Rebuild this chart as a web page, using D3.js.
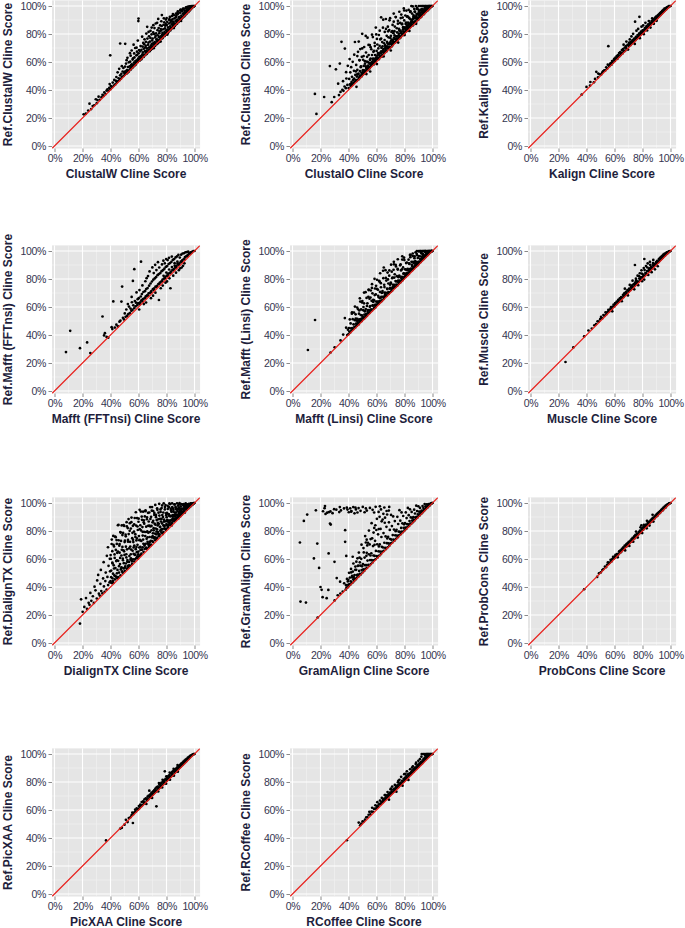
<!DOCTYPE html>
<html><head><meta charset="utf-8">
<script src="https://cdn.jsdelivr.net/npm/d3@7"></script>
<style>html,body{margin:0;padding:0;background:#fff;}</style>
</head><body>
<script>
const methods = ["ClustalW","ClustalO","Kalign","Mafft (FFTnsi)","Mafft (Linsi)","Muscle","DialignTX","GramAlign","ProbCons","PicXAA","RCoffee"];
const tickValues = [0,20,40,60,80,100];
const minorValues = [10,30,50,70,90];

const clustalW = [[20.8,22.6],[22.4,23.1],[24.1,25.3],[25.0,30.2],[26.2,26.4],[27.3,28.5],[28.4,29.1],[29.5,33.4],[30.2,30.6],[30.7,32.8],[31.5,35.2],[32.4,33.0],[33.6,34.9],[34.3,36.6],[35.1,35.8],[35.6,38.3],[36.5,37.1],[37.2,39.6],[37.8,40.4],[38.6,39.2],[39.1,41.5],[39.4,44.2],[40.0,40.6],[40.3,42.8],[39.8,64.8],[41.2,41.9],[41.6,45.3],[42.3,43.1],[42.7,47.2],[43.4,44.0],[43.9,46.5],[44.5,45.2],[44.2,49.3],[45.3,46.1],[45.8,48.4],[45.1,52.6],[46.4,47.0],[46.9,50.5],[46.2,55.1],[47.5,48.1],[47.8,51.6],[46.9,73.2],[48.3,49.4],[48.7,53.2],[48.1,57.0],[49.4,50.0],[49.8,52.3],[49.2,55.7],[50.5,73.0],
[50.2,50.9],[50.6,53.4],[50.9,51.6],[50.4,56.7],[51.3,52.5],[51.7,54.2],[51.1,58.9],[51.8,51.9],[51.5,61.3],[52.2,53.8],[52.8,52.9],[52.5,56.4],[52.1,63.0],[53.4,54.1],[53.7,56.9],[53.1,59.8],[53.9,66.3],[53.2,53.5],[54.3,55.6],[54.8,57.7],[54.1,60.2],[54.6,54.7],[54.4,64.5],[55.5,55.9],[55.2,58.4],[55.8,61.7],[55.1,68.2],[55.6,57.0],[56.3,57.8],[56.7,59.5],[56.1,62.6],[56.9,66.1],[56.5,72.4],[56.2,56.4],[57.4,58.1],[57.8,60.7],[57.1,63.3],[57.6,70.0],[57.3,57.5],[58.2,59.6],[58.7,61.2],[58.5,64.8],[58.9,67.4],[58.1,58.3],[58.6,70.2],[59.3,59.9],[59.7,62.4],[59.1,65.1],[59.5,75.3],[59.9,60.8],
[60.2,61.3],[60.6,63.7],[60.1,66.2],[60.0,91.0],[59.9,89.2],[60.8,60.9],[60.4,68.5],[61.3,62.6],[61.7,64.2],[61.2,67.6],[61.5,71.4],[61.9,61.8],[62.4,63.1],[62.8,65.5],[62.1,68.7],[62.6,78.1],[62.3,62.5],[62.9,71.0],[63.5,64.8],[63.2,66.9],[63.8,69.5],[63.4,73.6],[63.7,63.6],[64.2,65.3],[64.6,67.8],[64.9,70.4],[64.3,76.2],[64.7,64.9],[64.1,72.7],[65.4,66.7],[65.8,68.1],[65.2,71.6],[65.6,80.3],[65.9,65.7],[65.3,74.4],[66.5,67.2],[66.1,69.8],[66.8,72.3],[66.2,85.1],[66.6,66.8],[66.4,76.7],[67.3,68.9],[67.7,70.5],[67.1,73.8],[67.5,78.4],[67.9,67.6],[67.2,81.5],[68.4,69.1],[68.8,71.7],[68.2,74.6],[68.6,82.3],[68.9,68.7],[68.5,77.2],[69.1,70.6],[69.5,72.9],[69.8,75.4],[69.3,79.7],[69.7,69.5],[69.4,84.6],
[70.3,71.2],[70.7,73.5],[70.1,76.8],[70.5,81.1],[70.9,69.9],[70.4,70.6],[70.6,86.3],[71.2,72.7],[71.6,74.3],[71.9,77.5],[71.4,84.2],[71.8,71.5],[71.1,80.0],[72.4,73.3],[72.8,75.9],[72.2,78.6],[72.6,80.4],[72.9,72.6],[72.3,87.5],[73.5,74.8],[73.1,76.2],[73.7,79.1],[73.3,88.0],[73.9,73.4],[73.6,82.7],[74.2,75.5],[74.6,77.7],[74.9,80.6],[74.4,84.3],[74.7,74.5],[74.1,90.8],[75.3,76.1],[75.7,78.4],[75.1,81.9],[75.5,86.2],[75.8,74.6],[75.4,75.7],[75.9,83.5],[76.4,77.6],[76.8,79.2],[76.2,82.5],[76.6,85.7],[76.9,76.8],[76.3,89.1],[77.5,78.3],[77.1,80.8],[77.7,83.4],[76.7,93.5],[77.3,77.4],[77.9,86.6],[78.2,79.7],[78.6,81.3],[78.9,84.1],[78.4,88.4],[78.7,78.5],[78.1,91.2],[79.3,80.4],[79.7,82.6],[79.1,85.9],[79.5,90.3],[79.8,79.7],[79.4,87.2],
[80.4,81.5],[80.8,83.2],[80.2,86.4],[80.6,79.6],[80.1,91.4],[80.9,80.8],[80.5,88.7],[81.5,82.3],[81.1,84.7],[81.7,87.5],[81.3,81.2],[81.9,90.1],[82.2,83.6],[82.6,85.4],[82.9,88.3],[82.4,92.2],[82.7,82.5],[82.1,90.6],[83.3,84.2],[83.7,86.9],[83.1,89.4],[83.5,83.6],[83.9,92.8],[84.4,85.7],[84.8,87.3],[84.2,90.5],[84.6,94.3],[84.9,84.7],[84.3,88.9],[85.5,86.1],[85.1,88.6],[85.7,91.2],[85.3,84.2],[85.9,85.8],[85.4,93.4],[86.2,87.4],[86.6,89.5],[86.9,92.1],[86.4,86.5],[86.8,94.6],[87.3,88.7],[87.7,90.2],[87.1,93.3],[87.5,87.4],[87.9,95.1],[88.4,89.2],[88.8,91.6],[88.2,94.4],[88.6,88.5],[88.1,96.2],[89.5,90.6],[89.1,92.3],[89.7,95.2],[89.3,89.4],[89.9,97.0],
[90.2,91.4],[90.6,93.1],[90.9,96.3],[90.4,89.3],[90.7,90.8],[90.1,97.5],[91.3,92.2],[91.7,94.6],[91.1,97.2],[91.5,91.6],[91.9,98.1],[92.4,93.7],[92.8,95.3],[92.2,98.0],[92.6,92.5],[92.9,96.6],[93.5,94.2],[93.1,96.8],[93.7,98.4],[93.3,93.4],[93.9,99.0],[94.2,95.6],[94.6,97.1],[94.9,99.2],[94.4,94.5],[94.8,98.3],[95.3,96.4],[95.7,98.0],[95.1,99.4],[95.5,95.6],[95.9,97.3],[96.4,97.2],[96.8,99.1],[96.2,99.8],[96.6,96.7],[96.9,98.5],[97.5,98.3],[97.1,99.7],[97.7,100],[97.3,97.6],[97.9,99.0],[98.2,99.1],[98.6,100],[98.9,99.6],[98.4,98.7],[99.3,99.5],[99.7,100],[99.1,100],[99.5,99.8],[100,100]];

const clustalO = [[16.0,37.2],[17.1,22.9],[22.6,35.0],[26.7,57.1],[28.0,31.3],[29.8,35.0],[31.0,54.8],[32.6,44.5],[33.8,58.9],[33.2,36.4],[34.3,38.6],[35.0,74.4],[35.6,40.1],[36.4,39.4],[36.1,46.3],[37.4,69.6],[37.2,42.5],[38.1,41.3],[38.5,48.2],[38.3,52.7],[39.2,43.6],[39.5,57.3],
[40.1,41.4],[40.5,47.9],[40.8,62.1],[41.0,44.0],[41.3,52.6],[41.6,42.9],[41.9,56.3],[42.2,45.8],[42.5,49.4],[42.7,43.5],[43.0,60.1],[43.3,47.2],[43.6,44.9],[43.9,53.7],[44.1,65.2],[44.4,46.0],[44.6,74.3],[44.9,50.8],[45.2,47.1],[45.5,57.9],[45.7,42.3],[46.0,49.6],[46.3,54.4],[46.5,47.2],[46.8,67.3],[47.1,51.8],[47.3,74.6],[47.6,49.0],[47.9,61.2],[48.1,53.5],[48.4,69.2],[48.7,50.1],[48.9,56.9],[49.2,52.3],[49.5,63.7],[49.7,50.6],[49.8,80.1],[48.2,48.8],[46.2,51.2],[44.0,48.1],[42.0,44.6],
[50.1,53.5],[50.4,61.6],[50.6,51.4],[50.9,57.2],[51.2,70.7],[51.5,53.7],[51.7,60.6],[52.0,53.1],[52.3,56.9],[52.5,66.8],[52.8,51.4],[53.1,60.2],[53.3,56.2],[53.6,77.4],[53.9,54.3],[54.2,59.7],[54.4,65.0],[54.7,56.4],[55.0,58.8],[55.2,72.1],[55.5,53.2],[55.8,62.5],[56.0,56.9],[56.3,69.1],[56.6,59.7],[56.8,65.0],[57.1,58.7],[57.4,77.8],[57.6,62.5],[57.9,58.2],[58.2,67.9],[58.5,61.0],[58.7,73.6],[59.0,65.0],[59.3,60.5],[59.5,84.6],[59.8,63.4],
[60.1,67.9],[60.3,58.5],[60.6,72.5],[60.9,62.9],[61.1,66.3],[61.4,62.1],[61.7,79.3],[61.9,66.0],[62.2,71.5],[62.5,64.0],[62.7,76.1],[63.0,66.3],[63.3,91.9],[63.5,70.1],[63.8,64.0],[64.1,74.2],[64.3,67.0],[64.6,84.5],[64.9,69.3],[65.1,64.0],[65.4,73.4],[65.7,67.6],[65.9,81.5],[66.2,72.0],[66.5,69.5],[66.7,90.7],[67.0,67.6],[67.3,78.7],[67.5,74.4],[67.8,70.1],[68.1,85.2],[68.3,73.0],[68.6,77.6],[68.9,69.9],[69.1,82.8],[69.4,72.9],[69.7,91.3],[69.9,77.2],
[70.2,68.2],[70.5,73.1],[70.7,81.5],[71.0,76.0],[71.3,71.8],[71.5,86.5],[71.8,75.7],[72.1,80.6],[72.3,94.6],[72.6,74.0],[72.9,79.0],[73.1,85.3],[73.4,76.2],[73.7,92.1],[73.9,78.2],[74.2,75.0],[74.5,84.1],[74.7,81.1],[75.0,76.7],[75.3,89.4],[75.5,73.9],[75.8,79.0],[76.1,83.6],[76.3,95.9],[76.6,78.7],[76.9,87.9],[77.1,82.4],[77.4,77.8],[77.7,93.9],[77.9,81.6],[78.2,86.9],[78.5,79.8],[78.7,91.7],[79.0,84.9],[79.3,81.7],[79.5,98.3],[79.8,89.7],
[80.1,79.2],[80.3,84.8],[80.6,93.2],[80.9,82.7],[81.1,88.1],[81.4,96.7],[81.7,85.1],[81.9,82.5],[82.2,92.6],[82.5,88.1],[82.7,84.7],[83.0,97.2],[83.3,91.4],[83.5,82.2],[83.8,86.8],[84.1,95.8],[84.3,90.5],[84.6,85.7],[84.9,100],[85.1,89.1],[85.4,94.6],[85.7,88.4],[85.9,99.7],[86.2,86.5],[86.5,93.3],[86.7,91.3],[87.0,97.9],[87.3,88.8],[87.5,95.8],[87.8,91.1],[88.1,100],[88.3,87.3],[88.6,94.3],[88.9,91.1],[89.1,98.6],[89.4,90.3],[89.7,94.5],[89.9,97.5],
[90.2,100],[90.5,93.0],[90.7,96.7],[91.0,92.2],[91.3,100],[91.5,95.3],[91.8,97.2],[92.1,92.6],[92.3,100],[92.6,95.5],[92.9,97.8],[93.1,100],[93.4,95.0],[93.7,97.3],[93.9,100],[94.2,95.0],[94.5,98.5],[94.7,100],[95.0,97.3],[95.3,100],[95.5,96.5],[95.8,98.9],[96.1,100],[96.3,96.7],[96.6,99.2],[96.9,100],[97.1,98.6],[97.4,100],[97.7,98.4],[97.9,100],[98.2,100],[98.5,99.4],[98.8,100],[99.0,99.5],[99.3,100],[99.6,100],[100,100],
[50.3,52.0],[51.0,54.1],[51.9,52.8],[52.6,55.7],[53.4,54.9],[54.1,57.3],[54.9,55.6],[55.6,59.2],[56.4,57.8],[57.2,60.5],[57.8,59.1],[58.6,62.3],[59.2,60.0],[59.9,61.7],[60.7,64.8],[61.3,62.4],[62.0,65.2],[62.8,63.5],[63.4,67.6],[64.2,65.1],[64.8,68.3],[65.6,66.4],[66.3,70.8],[66.9,68.1],[67.6,71.2],[68.4,69.5],[69.0,72.6],[69.8,70.4],[70.4,75.1],[71.1,72.9],[71.9,73.0],[72.5,77.3],[73.3,74.1],[73.9,76.6],[74.6,78.4],[75.4,76.2],[76.0,80.3],[76.8,77.5],[77.5,80.9],[78.3,79.4],[78.9,83.1],[79.6,80.5],[80.4,83.9],[81.2,82.0],[81.8,86.2],[82.4,83.6],[83.2,87.5],[83.9,84.7],[84.5,88.3],[85.3,86.3],[85.8,90.4],[86.6,87.9],[87.2,91.8],[87.9,89.0],[88.5,92.7],[89.2,90.6],[89.8,93.9],[90.6,91.4],[91.2,94.7],[91.9,93.1],[92.5,96.3],[93.2,94.2],[93.8,96.9],[94.6,95.8],[95.2,98.2],[95.9,97.0],[96.5,98.8],[97.2,98.1],[97.8,99.3],[98.4,99.0],[99.1,99.8],
[45.3,53.3],[45.8,46.4],[46.3,64.2],[46.8,51.1],[47.3,47.6],[47.8,61.4],[48.3,50.2],[48.8,56.3],[49.3,49.7],[49.8,69.7],[50.3,54.2],[50.8,64.2],[51.3,51.6],[51.8,58.8],[52.3,78.6],[52.8,54.2],[53.3,63.7],[53.8,57.2],[54.3,72.2],[54.8,55.4],[55.3,61.5],[55.8,70.6],[56.3,58.3],[56.8,79.5],[57.3,62.1],[57.8,67.3],[58.3,58.6],[58.8,71.4],[59.3,62.1],[59.8,79.7],[60.3,76.5],[60.8,63.0],[61.3,69.7],[61.8,62.1],[62.3,82.4],[62.8,66.7],[63.3,76.7],[63.8,64.1],[64.3,71.1],[64.8,90.2],[65.3,66.7],[65.8,75.7],[66.3,69.5],[66.8,83.6],[67.3,67.8],[67.8,73.5],[68.3,81.9],[68.8,70.6],[69.3,89.8],[69.8,74.1],[70.3,78.7],[70.8,71.1],[71.3,82.1],[71.8,74.2],[72.3,88.8],[72.8,82.0],[73.3,74.0],[73.8,92.1],[74.3,78.4],[74.8,75.1],[75.3,87.4],[75.8,77.4],[76.3,82.4],[76.8,77.1],[77.3,91.4],[77.8,80.5],[78.3,87.4],[78.8,79.1],[79.3,83.9],[79.8,96.8],[80.3,81.2],[80.8,87.2],[81.3,83.3],[81.8,92.4],[82.3,82.6],[82.8,86.3],[83.3,91.5],[83.8,84.9],[84.3,96.1],[84.8,87.2],[85.3,90.0],[85.8,86.1],[86.3,92.1],[86.8,88.1],[87.3,96.0],[87.8,92.5],[88.3,88.6],[88.8,97.9],[89.3,91.3],[89.8,90.1],[90.3,95.9],[90.8,91.5],[91.3,93.9],[91.8,92.1],[92.3,97.8],[92.8,93.8],[93.3,96.5],[93.8,94.1],[94.3,95.7],[94.8,99.7],[95.3,95.7],[95.8,97.4],[96.3,96.8],[96.8,98.8],[97.3,97.6],[97.8,98.5],[98.3,99.3],[98.8,99.2],[99.3,99.8]];

const kalign = [[36.6,36.7],[40.0,42.2],[42.5,43.1],[42.8,45.7],[45.3,45.5],[46.1,47.9],[47.0,53.0],[48.4,51.7],[48.2,49.0],[49.3,51.2],[50.5,51.1],[51.2,52.4],[51.8,53.3],[52.7,54.1],[53.4,54.0],[54.1,56.2],[54.8,55.3],[55.2,58.1],[55.6,71.3],[56.3,57.0],[56.9,58.6],[57.4,59.3],[57.8,58.1],[58.3,60.7],[58.9,59.4],[59.4,61.2],[59.8,62.3],[60.3,60.8],[60.7,63.1],[61.2,62.4],[61.6,64.2],[62.1,62.3],[62.5,65.0],[62.9,63.6],[63.3,66.4],[63.7,64.2],[64.1,67.1],[64.5,65.0],[64.9,66.3],[65.3,68.5],[65.7,66.1],[66.1,69.2],[66.5,72.4],[66.9,67.5],[67.3,70.3],[67.7,68.2],[68.1,71.4],[68.5,74.6],[68.9,69.3],[69.3,72.2],[69.7,68.9],[70.1,71.5],[70.5,73.8],[70.9,76.1],[71.3,72.0],[71.7,74.4],[72.1,78.3],[72.5,73.2],[72.9,75.6],[73.3,80.1],[73.7,74.3],[74.1,76.7],[74.7,88.8],[74.5,72.9],[74.9,75.6],[75.3,77.9],[75.7,82.4],[76.1,76.8],[76.5,79.2],[76.9,83.6],[77.3,78.0],[77.8,92.3],[77.7,80.4],[78.1,77.0],[78.5,79.3],[78.9,81.7],[79.3,85.2],[79.7,80.5],[80.1,82.6],[80.5,86.1],[80.9,79.9],[81.3,82.1],[81.7,84.3],[82.1,88.0],[82.5,83.2],[82.9,85.6],[83.3,82.5],[83.7,84.4],[84.1,86.9],[84.5,89.3],[84.9,85.5],[85.3,87.8],[85.7,84.6],[86.1,86.9],[86.5,89.2],[86.9,91.1],[87.3,88.0],[87.7,90.4],[88.1,87.3],[88.5,89.3],[88.9,91.6],[89.3,90.1],[89.7,92.5],[90.1,89.4],[90.5,91.3],[90.9,93.4],[91.3,92.2],[91.7,94.1],[92.1,92.8],[92.5,95.0],[92.9,93.6],[93.3,95.7],[93.7,94.4],[94.1,96.6],[94.5,95.3],[94.9,97.2],[95.3,96.1],[95.7,98.1],[96.1,96.9],[96.5,98.4],[96.9,97.6],[97.3,99.0],[97.7,98.5],[98.1,99.4],[98.5,99.1],[98.9,100],[99.3,99.8],[99.7,100],[100,100],[60.1,61.5],[62.3,63.9],[64.3,66.0],[66.3,68.0],[68.3,70.1],[70.3,72.6],[72.3,74.2],[74.3,76.1],[76.3,78.0],[78.3,80.2],[80.3,81.4],[82.3,84.1],[84.3,85.9],[86.3,88.1],[88.3,90.2],[90.3,92.0],[92.3,94.1],[94.3,95.9],[96.3,97.8],[71.1,73.0],[73.1,75.1],[75.1,77.0],[77.1,79.1],[79.1,80.9],[81.1,83.0],[83.1,85.0],[85.1,86.8],[87.1,89.0],[89.1,91.0],[91.1,93.0],[93.1,94.8]];

const mafftFFTnsi = [[8.2,27.8],[11.2,43.0],[18.2,30.6],[23.3,34.7],[25.6,27.1],[34.3,53.2],[35.4,39.7],[36.0,41.3],[37.2,38.6],[38.4,38.1],[40.8,45.6],[41.3,44.2],[42.0,64.0],[43.1,45.3],[44.2,47.4],[45.3,46.1],[46.4,49.5],[47.8,63.9],[48.3,74.6],[47.1,50.2],[48.9,52.3],[49.6,51.1],[50.2,55.4],[50.8,53.0],[51.3,58.2],[51.9,53.6],[52.4,62.1],[52.7,54.9],[53.2,60.3],[53.8,55.7],[54.3,58.9],[54.9,57.3],[55.3,63.4],[55.1,67.2],[55.7,57.9],[56.0,78.6],[56.3,61.2],[57.0,87.0],[56.9,59.1],[57.4,64.3],[57.9,60.4],[58.2,63.1],[58.6,70.4],[59.1,61.3],[59.4,65.6],[59.8,62.7],[60.2,66.3],[60.5,58.2],[60.7,72.1],[61.2,63.4],[61.6,67.5],[61.8,92.4],[62.1,64.8],[62.4,69.2],[62.8,75.4],[63.1,65.6],[63.5,70.7],[63.8,62.1],[64.2,66.2],[64.6,71.3],[64.9,78.4],[65.2,67.6],[65.5,72.8],[65.8,80.6],[65.4,63.2],[66.1,68.3],[66.5,73.5],[66.8,82.1],[67.2,69.7],[67.6,75.2],[67.9,85.4],[68.2,70.1],[68.6,76.8],[68.9,66.3],[69.2,71.4],[69.6,78.2],[69.9,88.3],[70.3,72.7],[70.6,79.5],[70.9,84.2],[70.4,68.1],[71.2,73.3],[71.6,80.4],[71.9,90.1],[72.2,74.6],[72.5,81.3],[72.8,86.4],[72.1,70.2],[73.3,75.1],[73.6,82.7],[73.9,92.0],[74.2,76.4],[74.6,65.0],[74.5,83.5],[74.8,88.2],[75.3,77.5],[75.6,84.2],[75.9,73.4],[76.2,78.2],[76.5,85.6],[76.8,90.4],[77.2,79.6],[77.5,86.3],[77.8,93.1],[77.3,75.3],[78.2,80.3],[78.5,87.4],[78.8,91.2],[79.2,81.5],[79.5,88.6],[79.8,94.2],[79.3,77.4],[80.2,82.4],[80.5,89.2],[80.8,93.5],[80.4,78.3],[81.2,83.6],[81.5,90.7],[81.8,95.1],[82.2,84.2],[82.5,91.4],[82.8,73.4],[82.1,80.5],[83.2,85.3],[83.5,92.2],[83.8,96.0],[84.2,86.4],[84.5,93.6],[84.8,82.4],[85.2,87.1],[85.5,94.2],[85.8,91.3],[86.2,88.6],[86.5,95.4],[86.8,84.5],[87.2,89.3],[87.5,96.1],[87.8,92.4],[88.2,90.5],[88.5,97.2],[88.8,86.3],[89.2,91.2],[89.5,95.3],[89.8,87.6],[90.2,92.4],[90.5,97.4],[90.8,88.2],[91.2,93.3],[91.5,98.2],[91.8,89.4],[92.2,94.1],[92.5,98.4],[92.8,91.2],[93.2,95.6],[93.5,99.1],[94.2,96.3],[94.5,99.2],[95.2,97.1],[95.5,99.5],[96.2,98.3],[97.2,99.0],[98.2,99.4],[99.2,100],[100,100],[60.9,62.0],[62.9,64.0],[64.9,66.4],[66.9,68.1],[68.9,70.6],[70.9,72.3],[72.9,74.2],[74.9,76.6],[76.9,78.4],[78.9,80.5],[80.9,82.1],[82.9,84.3],[84.9,86.2],[86.9,88.0],[88.9,90.1],[90.9,92.2],[92.9,94.0],[94.9,96.2],[96.9,98.1],[97.9,98.9],[85.9,89.6],[87.9,91.0],[83.9,88.5],[81.9,86.8],[79.9,84.6],[77.9,82.3]];

const mafftLinsi = [[11.0,29.3],[16.1,50.7],[27.2,27.5],[30.1,31.2],[34.3,36.1],[36.2,40.3],[37.4,52.1],[38.3,45.2],[39.1,40.0],[39.6,43.8],[44.6,60.3],[42.5,56.2],[48.1,66.2],[51.1,70.3],[54.4,72.1],[56.8,76.3],[58.6,80.1],[62.6,84.1],[65.2,88.2],[70.4,90.2],[72.4,92.3],[75.2,94.1],[78.4,96.2],[83.9,97.2],[85.9,98.2],
[40.0,40.6],[40.3,45.0],[40.6,42.5],[40.9,51.1],[41.2,41.7],[41.5,48.3],[41.8,44.8],[42.1,43.2],[42.4,55.2],[42.7,45.0],[43.0,51.3],[43.3,44.1],[43.6,47.6],[43.9,56.0],[44.2,45.8],[44.5,50.6],[44.8,45.4],[45.1,54.8],[45.4,48.2],[45.7,50.3],[46.0,46.6],[46.3,51.6],[46.6,48.7],[46.9,58.4],[47.2,47.7],[47.5,55.2],[47.8,51.2],[48.1,49.2],[48.4,63.9],[48.7,51.4],[49.0,58.3],[49.3,50.1],[49.6,54.0],[49.9,64.3],
[50.2,52.0],[50.5,57.7],[50.8,51.5],[51.1,62.6],[51.4,54.6],[51.7,57.1],[52.0,52.7],[52.3,58.5],[52.6,55.0],[52.9,66.5],[53.2,53.7],[53.5,62.6],[53.8,57.7],[54.1,55.4],[54.4,72.5],[54.7,57.8],[55.0,65.9],[55.3,56.2],[55.6,60.7],[55.9,71.8],[56.2,58.1],[56.5,64.4],[56.8,57.5],[57.1,69.8],[57.4,60.9],[57.7,63.6],[58.0,58.7],[58.3,64.8],[58.6,61.1],[58.9,73.2],[59.2,59.7],[59.5,69.0],[59.8,63.9],
[60.1,61.4],[60.4,79.4],[60.7,63.9],[61.0,72.4],[61.3,62.2],[61.6,66.9],[61.9,78.6],[62.2,64.2],[62.5,70.8],[62.8,63.5],[63.1,77.0],[63.4,67.2],[63.7,70.1],[64.0,64.7],[64.3,71.4],[64.6,67.3],[64.9,80.6],[65.2,65.7],[65.5,75.9],[65.8,70.3],[66.1,67.5],[66.4,86.3],[66.7,70.1],[67.0,78.9],[67.3,68.2],[67.6,73.2],[67.9,84.6],[68.2,70.2],[68.5,76.8],[68.8,69.5],[69.1,82.4],[69.4,73.1],[69.7,75.9],
[70.0,70.7],[70.3,76.8],[70.6,73.1],[70.9,85.2],[71.2,71.7],[71.5,81.0],[71.8,75.9],[72.1,73.4],[72.4,90.5],[72.7,75.8],[73.0,83.4],[73.3,74.2],[73.6,78.5],[73.9,89.0],[74.2,76.0],[74.5,82.0],[74.8,75.5],[75.1,87.2],[75.4,78.8],[75.7,81.3],[76.0,76.7],[76.3,82.2],[76.6,78.9],[76.9,89.8],[77.2,77.7],[77.5,86.1],[77.8,81.5],[78.1,79.3],[78.4,93.9],[78.7,81.4],[79.0,88.3],[79.3,80.1],[79.6,84.0],[79.9,93.5],
[80.2,81.8],[80.5,86.9],[80.8,81.5],[81.1,91.4],[81.4,84.3],[81.7,86.5],[82.0,82.7],[82.3,87.3],[82.6,84.6],[82.9,93.8],[83.2,83.7],[83.5,90.8],[83.8,87.0],[84.1,85.2],[84.4,97.2],[84.7,87.0],[85.0,92.3],[85.3,86.1],[85.6,89.1],[85.9,96.4],[86.2,87.6],[86.5,91.4],[86.8,87.5],[87.1,94.9],[87.4,89.7],[87.7,91.4],[88.0,88.7],[88.3,92.1],[88.6,90.2],[88.9,97.0],[89.2,89.7],[89.5,95.0],[89.8,92.3],
[90.1,91.0],[90.4,99.7],[90.7,92.5],[91.0,96.2],[91.3,92.0],[91.6,94.2],[91.9,98.6],[92.2,93.3],[92.5,95.8],[92.8,93.5],[93.1,97.9],[93.4,95.0],[93.7,96.2],[94.0,94.7],[94.3,96.9],[94.6,95.6],[94.9,99.1],[95.2,95.7],[95.5,98.0],[95.8,97.1],[96.1,96.8],[96.4,99.6],[96.7,97.8],[97.0,99.2],[97.3,98.1],[97.6,98.9],[97.9,100],[98.2,99.0],[98.5,99.8],[98.8,99.5],[99.1,100],[99.4,99.9],[99.7,100],[100,100],
[87.9,99.1],[88.8,100],[89.9,100],[90.8,100],[91.9,100],[92.8,100],[93.9,100],[94.5,100],[95.6,100],[96.5,100],[96.8,100],[97.6,100],[98.2,100],[98.6,100],[99.1,100],[99.5,100],[91.4,100],[93.3,100],[95.1,100],[97.2,100],
[45.9,47.3],[49.5,51.8],[52.5,53.4],[55.5,57.6],[58.5,59.3],[61.5,63.7],[63.3,64.1],[66.0,68.3],[68.7,69.4],[71.4,73.6],[73.5,74.3],[76.2,78.5],[78.3,79.0],[80.7,83.1],[82.2,83.0],[84.6,86.9],[86.1,87.0],[88.5,90.7],[90.3,91.2],[92.4,94.2],[94.2,95.0],[96.3,97.9],
[45.2,51.7],[45.7,46.7],[46.2,59.6],[46.7,50.1],[47.2,47.7],[47.7,57.5],[48.2,50.0],[48.7,54.3],[49.2,49.9],[49.7,63.2],[50.2,53.2],[50.7,60.0],[51.2,51.7],[51.7,56.9],[52.2,70.6],[52.7,54.2],[53.2,60.8],[53.7,56.5],[54.2,67.3],[54.7,55.6],[55.2,60.1],[55.7,66.8],[56.2,58.1],[56.7,73.6],[57.2,61.2],[57.7,65.1],[58.2,58.9],[58.7,68.5],[59.2,61.8],[59.7,75.1],[60.2,72.9],[60.7,62.9],[61.2,68.0],[61.7,62.4],[62.2,78.1],[62.7,66.2],[63.2,74.1],[63.7,64.2],[64.2,70.2],[64.7,85.9],[65.2,66.8],[65.7,74.2],[66.2,69.3],[66.7,80.8],[67.2,68.1],[67.7,72.8],[68.2,79.7],[68.7,70.6],[69.2,86.1],[69.7,73.6],[70.2,77.5],[70.7,71.4],[71.2,80.6],[71.7,74.2],[72.2,86.6],[72.7,81.0],[73.2,74.3],[73.7,90.1],[74.2,78.3],[74.7,75.2],[75.2,86.7],[75.7,77.7],[76.2,82.2],[76.7,77.4],[77.2,90.5],[77.7,80.7],[78.2,86.9],[78.7,79.2],[79.2,83.8],[79.7,95.2],[80.2,81.5],[80.7,86.9],[81.2,83.5],[81.7,91.8],[82.2,83.0],[82.7,86.4],[83.2,91.1],[83.7,85.2],[84.2,95.6],[84.7,87.4],[85.2,90.1],[85.7,86.4],[86.2,92.3],[86.7,88.4],[87.2,96.1],[87.7,92.7],[88.2,88.9],[88.7,98.1],[89.2,91.7],[89.7,90.2],[90.2,96.4],[90.7,91.9],[91.2,94.3],[91.7,92.4],[92.2,98.3],[92.7,94.2],[93.2,97.0],[93.7,94.2],[94.2,96.2],[94.7,100],[95.2,95.9],[95.7,97.8],[96.2,96.9],[96.7,99.3],[97.2,97.8],[97.7,98.7],[98.2,99.6],[98.7,99.3],[99.2,99.9],[99.7,100]];

const muscle = [[25.0,20.7],[30.6,31.1],[38.3,39.0],[41.4,43.2],[43.8,44.6],[45.6,46.9],[46.8,47.7],[47.9,49.8],[48.9,49.6],[49.8,51.3],[50.4,52.9],[51.3,51.9],[52.1,54.2],[52.9,53.6],[53.6,56.1],[54.2,54.8],[54.9,56.3],[55.6,57.9],[56.2,56.8],[56.9,58.4],[57.5,59.9],[58.1,58.6],[58.4,56.9],[58.8,60.3],[59.4,61.8],[59.9,60.4],[60.5,62.8],[61.1,61.7],[61.6,63.9],[62.2,62.9],[62.7,65.1],[63.3,63.8],[63.8,66.2],[64.3,65.0],[64.8,67.1],[65.2,64.1],[65.6,66.4],[66.1,68.7],[66.6,67.2],[67.1,69.9],[67.4,73.1],[67.8,68.5],[68.3,70.9],[68.8,69.3],[69.2,72.1],[69.6,68.3],[70.1,71.0],[70.5,73.2],[70.9,75.8],[71.4,72.1],[71.8,74.3],[72.2,73.0],[72.6,75.4],[72.9,78.8],[73.3,74.0],[73.7,76.3],[74.1,72.6],[74.5,75.2],[74.6,90.0],[74.9,77.6],[75.3,80.2],[75.7,76.4],[76.1,78.2],[76.5,82.4],[76.9,75.6],[77.3,78.1],[77.7,80.3],[78.1,84.1],[78.5,79.2],[78.9,81.4],[79.3,86.2],[79.7,78.4],[80.1,80.9],[80.5,83.1],[80.9,87.8],[81.3,94.3],[81.2,79.6],[81.7,82.5],[82.1,84.3],[82.5,89.2],[82.9,83.6],[83.3,85.7],[83.7,91.1],[84.1,82.9],[84.5,85.4],[84.9,87.6],[85.3,92.3],[85.7,86.3],[86.1,88.5],[86.5,84.9],[86.9,87.6],[87.3,89.7],[87.7,93.6],[88.1,88.9],[88.5,90.8],[88.9,86.9],[89.3,90.2],[89.7,92.1],[90.1,90.9],[90.5,93.0],[90.9,89.1],[91.3,92.0],[91.7,94.2],[92.1,92.8],[92.5,95.1],[92.9,93.7],[93.3,95.8],[93.7,94.4],[94.1,96.6],[94.5,95.1],[94.9,97.4],[95.3,96.2],[95.7,98.0],[96.1,96.8],[96.5,98.4],[96.9,97.7],[97.3,99.1],[97.7,98.3],[98.1,99.2],[98.5,99.0],[98.9,99.8],[99.3,99.6],[99.7,100],[100,100],[62.5,63.8],[64.5,66.0],[66.5,68.1],[68.5,70.2],[70.5,71.9],[72.5,74.1],[74.5,76.3],[76.5,77.8],[78.5,80.4],[80.5,81.7],[82.5,84.0],[84.5,86.3],[86.5,87.7],[88.5,89.9],[90.5,91.6],[92.5,93.9],[94.5,96.0],[79.5,83.9],[83.5,88.2],[85.5,90.1],[77.5,82.0],[81.5,86.4],[75.5,79.1],[87.5,91.4]];

const dialignTX = [[18.2,13.9],[19.0,31.2],[20.1,22.3],[21.3,25.8],[22.5,32.1],[23.2,24.4],[24.4,28.7],[25.0,27.3],[25.6,35.8],[26.3,30.1],[27.4,33.4],[28.1,28.6],[28.6,40.2],[29.3,37.6],[30.2,31.8],[30.5,44.7],[31.2,48.6],[31.7,35.2],[32.3,33.9],[32.8,42.3],[33.4,37.1],[33.1,52.2],[34.2,35.4],[34.7,46.1],[35.3,40.4],[35.1,57.7],[35.8,36.5],[36.3,44.2],[36.6,50.3],[37.2,38.1],[37.4,62.3],[37.8,47.2],[38.3,41.4],[38.6,55.1],[38.2,68.4],[39.3,43.3],[39.7,51.2],[39.5,60.1],
[40.0,44.3],[40.3,60.1],[40.5,51.7],[40.8,70.7],[41.0,42.8],[41.3,65.6],[41.5,56.8],[41.8,49.5],[42.0,76.5],[42.3,55.5],[42.5,69.0],[42.8,48.3],[43.0,60.8],[43.3,76.0],[43.5,53.5],[43.8,66.5],[44.0,47.4],[44.3,73.5],[44.5,59.1],[44.8,64.4],[45.0,52.2],[45.3,84.1],[45.5,58.7],[45.8,73.4],[46.0,46.8],[46.3,69.5],[46.5,64.5],[46.8,56.4],[47.0,79.2],[47.3,52.5],[47.5,72.9],[47.8,62.5],[48.0,84.0],[48.3,51.1],[48.5,68.6],[48.8,60.2],[49.0,78.6],[49.3,66.2],[49.5,57.0],[49.8,83.6],
[50.0,62.9],[50.3,73.1],[50.5,54.7],[50.8,77.4],[51.0,68.8],[51.3,61.1],[51.5,86.3],[51.8,66.9],[52.0,58.0],[52.3,82.1],[52.5,73.6],[52.8,53.9],[53.0,77.8],[53.3,67.6],[53.5,62.1],[53.8,85.6],[54.0,72.3],[54.3,59.5],[54.5,81.7],[54.8,66.7],[55.0,89.6],[55.3,58.2],[55.5,74.9],[55.8,65.9],[56.0,83.7],[56.3,72.1],[56.5,63.7],[56.8,79.5],[57.0,69.6],[57.3,89.3],[57.5,59.7],[57.8,75.8],[58.0,67.0],[58.3,83.9],[58.5,73.3],[58.8,64.9],[59.0,89.2],[59.3,70.1],[59.5,80.7],[59.8,63.4],
[60.0,86.6],[60.3,76.4],[60.5,68.2],[60.8,95.1],[61.0,73.6],[61.3,84.1],[61.5,62.9],[61.8,80.4],[62.0,72.9],[62.3,90.3],[62.5,66.7],[62.8,82.8],[63.0,76.7],[63.3,93.8],[63.5,70.9],[63.8,87.6],[64.0,79.4],[64.3,69.6],[64.5,90.4],[64.8,76.4],[65.0,94.8],[65.3,67.9],[65.5,83.1],[65.8,74.4],[66.0,88.4],[66.3,79.7],[66.5,72.3],[66.8,93.0],[67.0,78.8],[67.3,86.8],[67.5,68.5],[67.8,83.8],[68.0,75.7],[68.3,97.1],[68.5,83.2],[68.8,73.0],[69.0,90.1],[69.3,80.5],[69.5,94.5],[69.8,72.7],
[70.0,86.2],[70.3,78.4],[70.5,94.3],[70.8,82.0],[71.0,75.5],[71.3,91.5],[71.5,85.2],[71.8,78.2],[72.0,98.6],[72.3,81.8],[72.5,89.9],[72.8,74.5],[73.0,87.8],[73.3,81.1],[73.5,95.1],[73.8,85.8],[74.0,79.3],[74.3,93.1],[74.5,85.1],[74.8,99.4],[75.0,77.6],[75.3,88.7],[75.5,82.9],[75.8,93.6],[76.0,86.8],[76.3,81.1],[76.5,96.4],[76.8,85.4],[77.0,91.4],[77.3,77.8],[77.5,90.0],[77.8,84.0],[78.0,99.8],[78.3,88.1],[78.5,81.9],[78.8,95.4],[79.0,86.9],[79.3,98.5],[79.5,81.2],[79.8,91.3],
[80.0,85.0],[80.3,92.9],[80.5,87.9],[80.8,98.0],[81.0,83.0],[81.3,92.1],[81.5,87.5],[81.8,97.0],[82.0,90.8],[82.3,85.7],[82.5,99.1],[82.8,90.6],[83.0,95.8],[83.3,84.3],[83.5,93.7],[83.8,88.2],[84.0,99.8],[84.3,91.3],[84.5,96.1],[84.8,87.2],[85.0,95.1],[85.3,91.3],[85.5,88.5],[85.8,99.0],[86.0,93.1],[86.3,87.7],[86.5,97.2],[86.8,91.6],[87.0,95.4],[87.3,89.6],[87.5,99.8],[87.8,94.3],[88.0,91.6],[88.3,98.1],[88.5,89.0],[88.8,96.6],[89.0,93.4],[89.3,100],[89.5,95.2],[89.8,91.8],
[90.0,96.0],[90.3,93.6],[90.5,99.2],[90.8,91.6],[91.0,95.9],[91.3,93.4],[91.5,98.9],[91.8,95.9],[92.0,93.6],[92.3,99.2],[92.5,96.1],[92.8,98.3],[93.0,93.4],[93.3,97.9],[93.5,96.2],[93.8,98.9],[94.0,96.0],[94.3,97.9],[94.5,95.1],[94.8,97.8],[95.0,96.4],[95.3,98.8],[95.5,97.5],[95.8,96.6],[96.0,99.4],[96.3,97.7],[96.5,98.8],[96.8,97.2],[97.0,98.5],[97.5,99.5],[98.0,98.6],[98.5,99.5],[99.0,99.5],[99.5,100],[100,100],
[40.6,43.1],[41.4,46.2],[42.1,42.9],[43.1,45.4],[44.6,49.8],[45.4,47.0],[46.1,50.3],[47.2,48.4],[47.9,54.1],[48.7,50.2],[49.4,53.3],[50.2,51.5],[50.9,56.8],[51.7,53.0],[52.4,55.1],[53.2,57.9],[53.9,55.0],[54.6,60.4],[55.4,56.3],[56.1,59.8],[56.9,58.2],[57.6,63.1],[58.4,60.6],[59.1,61.9],[59.9,65.3],[60.6,62.0],[61.4,66.5],[62.1,63.8],[62.9,68.4],[63.6,65.1],[64.4,67.2],[65.1,70.9],[65.9,67.4],[66.6,71.0],[67.4,69.9],[68.1,72.2],[68.9,70.3],[69.6,75.4],[70.4,72.1],[71.1,74.8],[71.9,73.4],[72.6,77.6],[73.4,75.2],[74.1,78.1],[74.9,76.3],[75.6,80.2],[76.4,78.9],[77.1,81.3],[77.9,79.2],[78.6,83.7],[79.4,81.0],[80.1,84.2],[80.9,82.4],[81.6,86.0],[82.4,84.1],[83.1,87.4],[83.9,85.6],[84.6,88.9],[85.4,86.9],[86.1,90.2],[86.9,88.5],[87.6,91.4],[88.4,90.1],[89.1,92.7],[89.9,91.1],[90.6,94.2],[91.4,92.8],[92.1,95.6],[92.9,94.1],[93.6,96.8],[94.4,95.5],[95.1,97.9],[95.9,96.8],[96.6,99.1],[97.4,98.2],[98.1,99.3],[98.9,99.8],
[40.1,62.8],[40.5,47.0],[40.9,73.9],[41.3,57.4],[41.7,44.3],[42.1,70.1],[42.5,53.2],[42.9,63.3],[43.3,47.8],[43.7,75.6],[44.1,58.5],[44.5,70.8],[44.9,46.1],[45.3,65.3],[45.7,84.4],[46.1,54.9],[46.5,70.7],[46.9,60.8],[47.3,78.9],[47.7,53.2],[48.1,66.6],[48.5,77.1],[48.9,59.1],[49.3,84.2],[49.7,65.5],[50.1,72.1],[50.5,53.9],[50.9,76.2],[51.3,63.4],[51.7,83.3],[52.1,59.2],[52.5,72.4],[52.9,88.5],[53.3,55.5],[53.7,80.1],[54.1,68.9],[54.5,63.4],[54.9,86.3],[55.3,59.3],[55.7,78.7],[56.1,73.7],[56.5,68.3],[56.9,84.8],[57.3,63.0],[57.7,77.7],[58.1,93.4],[58.5,68.5],[58.9,74.7],[59.3,83.2],[59.7,60.4],[60.1,88.8],[60.5,73.4],[60.9,81.4],[61.3,68.6],[61.7,93.9],[62.1,66.6],[62.5,88.0],[62.9,79.4],[63.3,73.9],[63.7,86.2],[64.1,85.2],[64.5,70.5],[64.9,94.1],[65.3,79.3],[65.7,67.9],[66.1,89.7],[66.5,75.5],[66.9,83.7],[67.3,70.9],[67.7,93.2],[68.1,79.3],[68.5,88.6],[68.9,69.8],[69.3,83.6],[69.7,97.1],[70.1,76.3],[70.5,87.3],[70.9,80.5],[71.3,92.9],[71.7,75.4],[72.1,84.5],[72.5,91.5],[72.9,79.6],[73.3,96.2],[73.7,84.0],[74.1,88.4],[74.5,76.7],[74.9,91.0],[75.3,82.9],[75.7,95.4],[76.1,80.5],[76.5,88.6],[76.9,98.3],[77.3,78.6],[77.7,93.2],[78.1,86.7],[78.5,83.6],[78.9,97.1],[79.3,81.6],[79.7,92.6],[80.1,89.9],[80.5,86.9],[80.9,95.8],[81.3,84.3],[81.7,91.9],[82.1,99.8],[82.5,87.4],[82.9,90.6],[83.3,94.7],[83.7,84.0],[84.1,97.1],[84.5,90.2],[84.9,93.8],[85.3,88.4],[85.7,99.0],[86.1,87.9],[86.5,96.5],[86.9,93.2],[87.3,91.2],[87.7,95.8],[88.1,95.6],[88.5,90.6],[88.9,99.0],[89.3,94.0],[89.7,90.4],[90.1,97.6],[90.5,93.3],[90.9,95.9],[91.3,92.4],[91.7,98.8],[92.1,95.1],[92.5,97.7],[92.9,93.1],[93.3,96.7],[93.7,99.8],[94.1,95.4],[94.5,97.9],[94.9,96.7],[95.3,99.1],[95.7,96.3],[96.1,97.9],[96.5,99.1],[96.9,97.7],[97.3,99.7],[97.7,98.6],[98.1,99.2],[98.5,98.6],[98.9,99.6],[99.3,99.5],[99.7,100]];

const gramAlign = [[5.7,29.6],[9.6,28.9],[5.3,71.8],[8.1,87.2],[10.5,91.7],[15.3,60.4],[17.7,71.0],[19.0,53.6],[16.7,94.8],[18.0,18.2],[20.0,40.0],[20.8,38.0],[21.5,32.7],[21.8,94.1],[22.9,96.3],[23.6,92.2],[24.4,32.0],[25.6,37.9],[24.8,93.1],[26.8,85.3],[25.8,64.0],[27.3,84.6],[27.1,94.0],[23.2,97.8],[28.6,92.7],[30.0,58.0],[30.1,30.4],[31.6,46.4],[31.3,95.2],[32.3,34.1],[33.4,93.5],[34.0,43.8],[34.2,35.3],[35.9,36.8],[37.6,80.6],[37.6,72.3],[38.8,96.7],[38.4,62.2],[39.3,95.3],[40.2,93.4],[41.2,96.2],[42.1,94.3],[43.0,61.6],[43.4,97.1],[44.3,92.6],[45.3,95.4],[46.4,93.2],[47.2,96.4],[48.6,94.4],[51.5,93.4],[52.4,96.1],[57.2,95.1],[59.4,97.3],[61.5,93.6],[63.2,95.4],[65.6,96.8],[67.2,94.3],[69.1,97.2],[62.4,97.6],[55.3,96.5],[53.1,94.6],[50.2,97.2],[41.9,93.8],[36.8,96.1],[34.6,94.7],[29.7,95.6],[26.1,93.5],[33.8,97.1],[44.9,96.7],[58.3,93.2],
[38.0,38.1],[38.3,41.3],[38.6,39.6],[38.9,45.8],[39.2,39.4],[39.5,44.0],[39.8,41.6],[40.1,40.5],[40.4,50.1],[40.7,42.1],[41.0,46.7],[41.3,41.6],[41.6,44.1],[41.9,50.4],[42.2,43.0],[42.5,46.9],[42.8,43.0],[43.1,51.0],[43.4,45.4],[43.7,47.2],[44.0,44.2],[44.3,48.5],[44.6,46.0],[44.9,54.6],[45.2,45.5],[45.5,52.3],[45.8,48.5],[46.1,46.7],[46.4,60.5],[46.7,48.8],[47.0,55.3],[47.3,47.6],[47.6,51.5],[47.9,61.0],[48.2,49.4],[48.5,55.2],[48.8,49.0],[49.1,60.1],[49.4,52.1],[49.7,54.8],
[50.0,50.3],[50.3,56.3],[50.6,52.6],[50.9,64.7],[51.2,51.5],[51.5,61.0],[51.8,55.6],[52.1,52.9],[52.4,71.8],[52.7,55.6],[53.0,64.4],[53.3,53.7],[53.6,58.9],[53.9,71.6],[54.2,55.8],[54.5,63.4],[54.8,55.1],[55.1,70.4],[55.4,59.2],[55.7,62.5],[56.0,56.4],[56.3,64.1],[56.6,59.2],[56.9,74.8],[57.2,57.5],[57.5,69.2],[57.8,62.5],[58.1,59.1],[58.4,82.2],[58.7,62.2],[59.0,73.0],[59.3,59.8],[59.6,65.8],[59.9,80.7],
[60.2,62.1],[60.5,70.5],[60.8,61.1],[61.1,77.6],[61.4,65.5],[61.7,69.0],[62.0,62.4],[62.3,70.4],[62.6,65.3],[62.9,81.5],[63.2,63.5],[63.5,75.7],[63.8,68.7],[64.1,65.2],[64.4,88.2],[64.7,68.2],[65.0,78.5],[65.3,65.8],[65.6,71.6],[65.9,85.9],[66.2,68.0],[66.5,76.1],[66.8,67.1],[67.1,83.0],[67.4,71.3],[67.7,74.7],[68.0,68.4],[68.3,75.8],[68.6,71.1],[68.9,86.2],[69.2,69.5],[69.5,80.8],[69.8,74.3],
[70.1,71.1],[70.4,91.5],[70.7,73.8],[71.0,83.5],[71.3,71.8],[71.6,77.1],[71.9,90.4],[72.2,73.9],[72.5,81.0],[72.8,73.1],[73.1,87.1],[73.4,76.9],[73.7,79.9],[74.0,74.4],[74.3,80.9],[74.6,76.8],[74.9,90.1],[75.2,75.6],[75.5,85.0],[75.8,79.6],[76.1,76.9],[76.4,94.9],[76.7,79.4],[77.0,87.4],[77.3,77.7],[77.6,82.2],[77.9,93.3],[78.2,79.6],[78.5,85.5],[78.8,79.1],[79.1,90.7],[79.4,82.3],[79.7,84.8],
[80.0,80.4],[80.3,85.7],[80.6,82.4],[80.9,93.3],[81.2,81.5],[81.5,89.2],[81.8,84.9],[82.1,82.8],[82.4,96.5],[82.7,84.8],[83.0,91.3],[83.3,83.6],[83.6,87.1],[83.9,95.5],[84.2,85.2],[84.5,89.7],[84.8,85.1],[85.1,93.6],[85.4,87.5],[85.7,89.2],[86.0,86.3],[86.3,89.9],[86.6,87.8],[86.9,95.2],[87.2,87.5],[87.5,92.5],[87.8,89.8],[88.1,88.6],[88.4,98.1],[88.7,90.1],[89.0,94.2],[89.3,89.6],[89.6,91.9],[89.9,97.6],
[90.2,90.9],[90.5,93.8],[90.8,91.1],[91.1,96.5],[91.4,92.7],[91.7,93.9],[92.0,92.3],[92.3,94.6],[92.6,93.4],[92.9,97.8],[93.2,93.5],[93.5,96.4],[93.8,94.9],[94.1,94.6],[94.4,99.3],[94.7,95.5],[95.0,97.6],[95.3,95.7],[95.6,96.8],[95.9,99.0],[96.2,96.7],[96.5,97.8],[96.8,97.1],[97.1,99.2],[97.4,98.0],[97.7,98.6],[98.0,98.3],[98.3,99.4],[98.6,99.1],[98.9,99.6],[99.2,99.5],[99.5,100],[99.8,100],[100,100],
[45.6,58.1],[47.4,64.6],[49.3,70.2],[50.7,67.8],[51.9,76.4],[53.4,69.7],[54.6,80.3],[55.8,74.2],[56.5,85.6],[57.9,78.9],[59.2,84.1],[60.3,88.7],[61.6,81.4],[62.2,90.1],[63.7,86.9],[64.9,92.3],[66.1,89.5],[67.6,91.8],[68.8,94.6],[53.0,73.8],[48.1,57.6],[46.6,55.0],[52.8,62.3],[58.6,70.1],[44.8,52.3],[43.5,56.8],[41.8,52.9],[42.6,48.0],[39.9,45.1],[36.9,42.6]];

const probCons = [[38.3,38.4],[47.6,47.2],[48.9,49.7],[50.2,50.4],[51.3,52.1],[52.1,52.8],[53.2,54.6],[53.9,54.1],[54.7,55.9],[55.3,57.6],[55.9,56.6],[56.6,57.4],[57.2,59.4],[57.8,58.3],[58.4,59.9],[59.0,61.5],[59.6,60.2],[60.2,61.8],[60.7,62.9],[61.3,61.7],[61.8,63.5],[62.3,61.2],[62.8,63.6],[63.3,65.4],[63.8,64.3],[64.3,66.2],[64.8,65.4],[65.3,67.3],[65.8,66.5],[66.3,68.4],[66.8,67.3],[67.3,69.6],[67.6,66.1],[68.1,68.8],[68.5,70.6],[68.9,69.5],[69.4,71.4],[69.8,70.3],[70.2,72.3],[70.6,69.3],[71.0,71.8],[71.4,73.2],[71.8,72.4],[72.2,74.3],[72.6,73.2],[73.0,75.1],[73.4,72.4],[73.8,74.5],[74.2,76.3],[74.6,75.2],[75.0,77.3],[75.4,79.6],[75.8,76.4],[76.2,78.1],[76.6,75.3],[77.0,77.7],[77.4,79.2],[77.8,78.4],[78.2,80.3],[78.6,82.6],[79.0,79.6],[79.4,81.4],[79.8,78.5],[80.2,80.9],[80.6,82.7],[81.0,84.4],[81.4,82.1],[81.8,83.5],[82.2,82.8],[82.6,84.6],[83.0,81.9],[83.4,84.1],[83.8,85.8],[84.2,84.8],[84.6,86.6],[85.0,83.9],[85.4,86.1],[85.8,87.6],[86.2,86.8],[86.6,88.5],[87.0,87.6],[87.4,89.4],[87.8,86.7],[88.2,88.9],[88.6,90.3],[89.0,89.7],[89.4,91.2],[89.8,90.5],[90.2,92.1],[90.6,91.3],[91.0,92.8],[91.4,92.1],[91.8,93.5],[92.2,92.9],[92.6,94.3],[93.0,93.7],[93.4,95.1],[93.8,94.5],[94.2,95.9],[94.6,95.3],[95.0,96.7],[95.4,96.1],[95.8,97.4],[96.2,96.9],[96.6,98.1],[97.0,97.7],[97.4,98.6],[97.8,98.5],[98.2,99.2],[98.6,99.1],[99.0,99.7],[99.4,99.8],[99.8,100],[100,100],[60.5,60.9],[62.5,62.8],[64.5,64.9],[66.5,67.0],[68.5,68.9],[70.5,71.0],[72.5,72.8],[74.5,74.9],[76.5,76.9],[78.5,78.8],[80.5,80.9],[82.5,82.9],[84.5,84.8],[86.5,86.9],[88.5,88.9],[90.5,90.8],[92.5,92.9],[94.5,94.8],[96.5,96.8],[79.2,84.1],[83.2,87.3],[87.2,91.6]];

const picXAA = [[36.8,38.3],[47.0,46.7],[48.1,47.3],[50.0,49.5],[51.0,53.0],[52.2,51.4],[53.1,54.2],[54.2,54.8],[55.1,56.3],[55.6,58.1],[56.0,50.7],[56.4,57.1],[57.1,58.4],[57.6,60.2],[58.2,58.9],[58.7,61.1],[59.3,60.1],[59.8,60.6],[60.3,62.8],[60.8,61.4],[61.3,63.9],[61.8,62.5],[62.3,65.7],[62.8,63.5],[63.3,66.2],[63.8,64.4],[64.3,67.6],[64.8,65.3],[65.2,68.4],[65.6,64.3],[66.1,66.8],[66.5,69.5],[66.9,67.6],[67.3,70.3],[67.7,73.8],[68.1,68.9],[68.5,71.2],[68.9,69.7],[69.3,72.4],[69.7,68.6],[70.1,70.9],[70.5,73.3],[70.9,71.6],[71.3,74.2],[71.7,72.5],[72.1,75.3],[72.8,62.6],[72.5,73.1],[72.9,76.2],[73.3,74.1],[73.7,76.8],[74.1,73.2],[74.5,75.3],[74.9,78.1],[75.3,76.1],[75.7,78.9],[76.1,76.8],[76.5,79.6],[76.9,76.1],[77.3,78.2],[77.7,80.6],[78.1,78.8],[78.5,81.4],[78.8,87.6],[78.9,79.6],[79.3,82.2],[79.7,78.8],[80.1,80.9],[80.5,83.1],[80.9,81.7],[81.3,84.2],[81.7,82.4],[82.1,85.0],[82.5,81.6],[82.9,83.7],[83.3,86.1],[83.7,84.3],[84.1,87.2],[84.5,85.1],[84.9,87.9],[85.3,84.5],[85.7,86.4],[86.1,88.8],[86.5,87.2],[86.9,89.6],[87.3,88.1],[87.7,90.5],[88.1,87.4],[88.5,89.2],[88.9,91.4],[89.3,90.1],[89.7,92.3],[90.1,90.9],[90.5,93.1],[90.9,91.7],[91.3,93.6],[91.7,92.4],[92.1,94.5],[92.5,93.3],[92.9,95.2],[93.3,94.1],[93.7,96.0],[94.1,94.9],[94.5,96.6],[94.9,95.7],[95.3,97.4],[95.7,96.5],[96.1,97.9],[96.5,97.3],[96.9,98.6],[97.3,98.2],[97.7,99.1],[98.1,98.9],[98.5,99.5],[98.9,99.6],[99.3,99.9],[99.7,100],[100,100],[62.1,63.0],[64.1,65.2],[66.1,67.4],[68.1,69.3],[70.1,71.5],[72.1,73.6],[74.1,75.7],[76.1,77.5],[78.1,79.7],[80.1,81.5],[82.1,83.6],[84.1,85.6],[86.1,87.5],[88.1,89.7],[90.1,91.4],[92.1,93.6],[94.1,95.4],[82.3,86.7],[85.1,89.4],[87.9,92.1],[79.9,84.1],[77.2,81.6],[74.6,79.2]];

const rCoffee = [[38.9,38.4],[47.3,51.0],[48.3,49.1],[49.2,50.3],[50.1,51.9],[50.8,51.6],[51.8,53.1],[52.7,54.8],[53.5,54.9],[54.4,56.6],[54.9,58.7],[55.7,56.9],[56.4,58.8],[56.9,61.6],[57.6,58.7],[58.2,60.9],[58.7,60.8],[59.2,63.4],[59.8,61.2],[60.3,62.7],[60.6,65.6],[61.2,62.3],[61.6,63.9],[62.1,64.2],[62.5,66.8],[63.0,64.1],[63.4,65.9],[63.8,68.6],[64.3,65.4],[64.7,67.2],[65.1,66.3],[65.5,68.1],[65.9,70.7],[66.3,67.4],[66.7,69.1],[67.1,68.3],[67.5,70.4],[67.9,72.8],[68.3,69.2],[68.7,71.3],[68.9,67.4],[69.3,70.1],[69.7,72.4],[70.1,74.8],[70.5,71.4],[70.9,73.3],[71.2,76.7],[71.6,72.5],[72.0,74.6],[72.4,73.2],[72.8,75.3],[73.1,77.9],[73.5,74.6],[73.9,76.4],[74.2,73.1],[74.6,75.7],[74.9,77.6],[75.3,79.8],[75.7,76.4],[76.1,78.3],[76.4,81.6],[76.8,77.7],[77.2,79.6],[77.6,83.7],[77.9,78.6],[78.3,80.9],[78.6,77.4],[79.0,80.1],[79.4,82.3],[79.8,85.6],[80.1,81.1],[80.5,83.2],[80.9,81.7],[81.3,84.2],[81.7,87.6],[82.1,83.1],[82.5,85.4],[82.8,81.5],[83.2,84.3],[83.6,86.2],[84.0,89.1],[84.4,85.3],[84.8,87.1],[85.2,86.4],[85.6,88.3],[86.0,91.1],[86.4,87.2],[86.8,89.3],[87.2,88.4],[87.6,90.2],[88.0,92.8],[88.4,89.3],[88.8,91.1],[89.2,90.2],[89.6,92.2],[89.9,95.1],[90.3,91.1],[90.7,93.3],[91.0,96.3],[91.4,92.4],[91.8,94.2],[92.1,98.1],[92.5,93.3],[92.9,95.2],[92.3,100],[93.2,94.3],[93.6,96.4],[93.3,100],[94.0,95.1],[94.4,97.2],[94.1,100],[94.8,99.0],[95.2,96.2],[95.5,98.3],[95.2,100],[95.8,100],[96.2,97.4],[96.5,99.1],[96.3,100],[96.8,100],[97.2,98.3],[97.5,99.6],[97.3,100],[97.8,100],[98.2,99.3],[98.5,100],[98.8,100],[99.2,99.8],[99.5,100],[99.8,100],[100,100],[60.9,62.1],[62.9,64.5],[64.9,66.2],[66.9,68.5],[68.9,70.4],[70.9,72.1],[72.9,74.5],[74.9,76.3],[76.9,78.6],[78.9,80.2],[80.9,82.6],[82.9,84.5],[84.9,86.2],[86.9,88.6],[88.9,90.4],[90.9,92.3],[92.9,94.4],[94.9,96.6],[70.3,75.2],[75.6,80.9],[80.7,85.9],[85.4,90.3],[88.3,93.8],[66.2,70.6]];

const seriesData = [clustalW, clustalO, kalign, mafftFFTnsi, mafftLinsi, muscle, dialignTX, gramAlign, probCons, picXAA, rCoffee];

const W = 685, H = 928;
const colX0 = [54.5, 292.5, 530.5];
const rowY100 = [6, 251, 503, 754];
const span = 140;
const lo = -1.8, hi = 104;

const svg = d3.select("body").append("svg").attr("width", W).attr("height", H)
  .style("font-family", "'Liberation Sans', Arial, Helvetica, sans-serif");
svg.append("rect").attr("width", W).attr("height", H).attr("fill", "#fff");

methods.forEach((m, i) => {
  const col = i % 3, row = Math.floor(i / 3);
  const x0 = colX0[col], yTop = rowY100[row];
  const x = d3.scaleLinear().domain([lo, hi]).range([x0 + lo*span/100, x0 + hi*span/100]);
  const y = d3.scaleLinear().domain([lo, hi]).range([yTop + span - lo*span/100, yTop + span - hi*span/100]);
  const [px0, px1] = x.range();
  const [py1, py0] = y.range();
  const g = svg.append("g");
  const clipId = "clip" + i;
  g.append("clipPath").attr("id", clipId).append("rect")
    .attr("x", px0).attr("y", py0).attr("width", px1 - px0).attr("height", py1 - py0);
  g.append("rect").attr("x", px0).attr("y", py0).attr("width", px1 - px0).attr("height", py1 - py0).attr("fill", "#e5e5e5");
  minorValues.forEach(v => {
    g.append("line").attr("x1", x(v)).attr("x2", x(v)).attr("y1", py0).attr("y2", py1).attr("stroke", "#f2f2f2").attr("stroke-width", 0.6);
    g.append("line").attr("y1", y(v)).attr("y2", y(v)).attr("x1", px0).attr("x2", px1).attr("stroke", "#f2f2f2").attr("stroke-width", 0.6);
  });
  tickValues.forEach(v => {
    g.append("line").attr("x1", x(v)).attr("x2", x(v)).attr("y1", py0).attr("y2", py1).attr("stroke", "#fff").attr("stroke-width", 1.1);
    g.append("line").attr("y1", y(v)).attr("y2", y(v)).attr("x1", px0).attr("x2", px1).attr("stroke", "#fff").attr("stroke-width", 1.1);
  });
  const data = seriesData[i];
  g.append("g").attr("clip-path", `url(#${clipId})`).selectAll("circle").data(data).join("circle")
    .attr("cx", d => x(d[0])).attr("cy", d => y(d[1])).attr("r", 1.35).attr("fill", "#000");
  g.append("line").attr("clip-path", `url(#${clipId})`)
    .attr("x1", x(lo)).attr("y1", y(lo)).attr("x2", x(hi)).attr("y2", y(hi))
    .attr("stroke", "#e8201c").attr("stroke-width", 1.2);

  const xa = d3.axisBottom(x).tickValues(tickValues).tickFormat(d => d + "%").tickSize(3.5).tickPadding(3);
  const ya = d3.axisLeft(y).tickValues(tickValues).tickFormat(d => d + "%").tickSize(3.5).tickPadding(2.6);
  const gx = g.append("g").attr("transform", `translate(0,${py1})`).call(xa);
  const gy = g.append("g").attr("transform", `translate(${px0},0)`).call(ya);
  [gx, gy].forEach(a => {
    a.select(".domain").remove();
    a.selectAll(".tick line").attr("stroke", "#8a8a8a").attr("stroke-width", 1);
    a.selectAll(".tick text").attr("fill", "#34344f").style("font-size", "10.5px").style("letter-spacing", "-0.4px");
  });
  g.append("text").attr("x", (px0 + px1) / 2).attr("y", py1 + 29)
    .attr("text-anchor", "middle").attr("fill", "#1e1e3c").style("font-size", "12px").style("font-weight", "bold")
    .text(m + " Cline Score");
  g.append("text").attr("transform", `translate(${x0 - 43},${(py0 + py1) / 2}) rotate(-90)`)
    .attr("text-anchor", "middle").attr("fill", "#1e1e3c").style("font-size", "12px").style("font-weight", "bold")
    .text("Ref." + m + " Cline Score");
});
</script>
</body></html>
